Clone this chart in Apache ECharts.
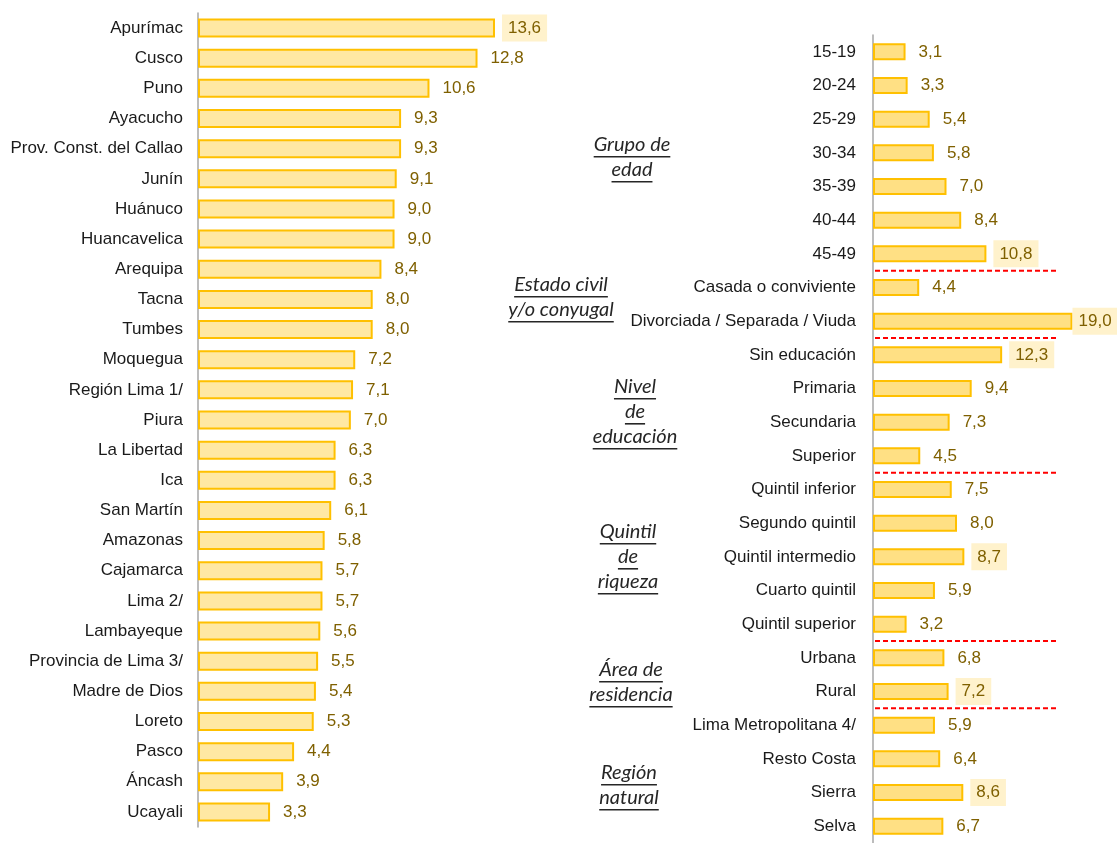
<!DOCTYPE html>
<html>
<head>
<meta charset="utf-8">
<script src="https://cdn.jsdelivr.net/npm/echarts@6/dist/echarts.min.js"></script>
<style>
  html, body { margin: 0; padding: 0; background: #fff; }
  #chart { width: 1117px; height: 843px; }
</style>
</head>
<body>
<div id="chart"></div>
<script>
// departamentos (izquierda)
const regiones = [
  "Apurímac", "Cusco", "Puno", "Ayacucho", "Prov. Const. del Callao", "Junín",
  "Huánuco", "Huancavelica", "Arequipa", "Tacna", "Tumbes", "Moquegua",
  "Región Lima 1/", "Piura", "La Libertad", "Ica", "San Martín", "Amazonas",
  "Cajamarca", "Lima 2/", "Lambayeque", "Provincia de Lima 3/", "Madre de Dios",
  "Loreto", "Pasco", "Áncash", "Ucayali"
];
const regionValores = [
  13.6, 12.8, 10.6, 9.3, 9.3, 9.1, 9.0, 9.0, 8.4, 8.0, 8.0, 7.2, 7.1, 7.0,
  6.3, 6.3, 6.1, 5.8, 5.7, 5.7, 5.6, 5.5, 5.4, 5.3, 4.4, 3.9, 3.3
];
const regionDestacadas = ["Apurímac"];

// características (derecha)
const categorias = [
  "15-19", "20-24", "25-29", "30-34", "35-39", "40-44", "45-49",
  "Casada o conviviente", "Divorciada / Separada / Viuda",
  "Sin educación", "Primaria", "Secundaria", "Superior",
  "Quintil inferior", "Segundo quintil", "Quintil intermedio", "Cuarto quintil", "Quintil superior",
  "Urbana", "Rural",
  "Lima Metropolitana 4/", "Resto Costa", "Sierra", "Selva"
];
const categoriaValores = [
  3.1, 3.3, 5.4, 5.8, 7.0, 8.4, 10.8,
  4.4, 19.0,
  12.3, 9.4, 7.3, 4.5,
  7.5, 8.0, 8.7, 5.9, 3.2,
  6.8, 7.2,
  5.9, 6.4, 8.6, 6.7
];
const categoriaDestacadas = ["45-49", "Divorciada / Separada / Viuda", "Sin educación",
  "Quintil intermedio", "Rural", "Sierra"];

// títulos de grupo y el último índice de cada grupo (para la línea roja)
const grupos = [
  ["Grupo de", "edad"],
  ["Estado civil", "y/o conyugal"],
  ["Nivel", "de", "educación"],
  ["Quintil", "de", "riqueza"],
  ["Área de", "residencia"],
  ["Región", "natural"]
];
const grupoPos = [[632, 145], [561, 285], [635, 387], [628, 532], [631, 670], [629, 773]];
const cortes = [6, 8, 12, 17, 19];

const fmt = v => v.toFixed(1).replace(".", ",");
const labelFont = "Liberation Sans";

function items(names, values, hi) {
  return values.map((v, i) => {
    const label = {};
    if (hi.indexOf(names[i]) >= 0) label.backgroundColor = "#FFF2CC";
    // la barra más larga: etiqueta pegada al borde como en el original
    if (v === Math.max.apply(null, values) && names === categorias) label.distance = 0;
    return { value: v, label: label };
  });
}

function barSeries(idx, data, fill, bw) {
  return {
    type: "bar",
    xAxisIndex: idx,
    yAxisIndex: idx,
    data: data,
    barWidth: bw,
    itemStyle: { color: fill, borderColor: "#FFC000", borderWidth: 2 },
    label: {
      show: true,
      position: "right",
      distance: 7,
      padding: [5, 6],
      color: "#7F6000",
      fontSize: 17,
      fontFamily: labelFont,
      formatter: p => fmt(p.value)
    }
  };
}

function catAxis(idx, data, margin) {
  return {
    type: "category",
    gridIndex: idx,
    data: data,
    inverse: true,
    axisLine: { lineStyle: { color: "#A6A6A6", width: 1.5 } },
    axisTick: { show: false },
    axisLabel: { color: "#1a1a1a", fontSize: 17, fontFamily: labelFont, margin: margin }
  };
}

const chart = echarts.init(document.getElementById("chart"));
chart.setOption({
  animation: false,
  grid: [
    { left: 198, top: 13, width: 349.4, height: 814 },
    { left: 873, top: 35, width: 241.5, height: 816 }
  ],
  xAxis: [
    { type: "value", gridIndex: 0, min: 0, max: 16, show: false },
    { type: "value", gridIndex: 1, min: 0, max: 23, show: false }
  ],
  yAxis: [catAxis(0, regiones, 15), catAxis(1, categorias, 17)],
  series: [
    barSeries(0, items(regiones, regionValores, regionDestacadas), "#FFE8A3", 19),
    barSeries(1, items(categorias, categoriaValores, categoriaDestacadas), "#FFE084", 17)
  ]
});

// títulos de grupo subrayados y separadores rojos
const ctx = document.createElement("canvas").getContext("2d");
const titleFont = "italic 20px Lato";
ctx.font = titleFont;
const graphics = [];
grupos.forEach((lines, g) => {
  const [cx, cy] = grupoPos[g];
  lines.forEach((t, k) => {
    const y = cy + k * 25;
    const w = ctx.measureText(t).width;
    graphics.push({
      type: "text", x: cx, y: y,
      style: { text: t, font: titleFont, fill: "#262626", align: "center", verticalAlign: "middle" }
    });
    graphics.push({
      type: "rect", shape: { x: cx - w / 2, y: y + 11, width: w, height: 1.6 },
      style: { fill: "#262626" }
    });
  });
});
cortes.forEach(i => {
  const a = chart.convertToPixel({ gridIndex: 1 }, [0, categorias[i]]);
  const b = chart.convertToPixel({ gridIndex: 1 }, [17.5, categorias[i + 1]]);
  const y = (a[1] + b[1]) / 2;
  graphics.push({
    type: "line",
    shape: { x1: a[0] + 2, y1: y, x2: b[0], y2: y },
    style: { stroke: "#FF0000", lineWidth: 2, lineDash: [5, 3] }
  });
});
chart.setOption({ graphic: graphics });
</script>
</body>
</html>
